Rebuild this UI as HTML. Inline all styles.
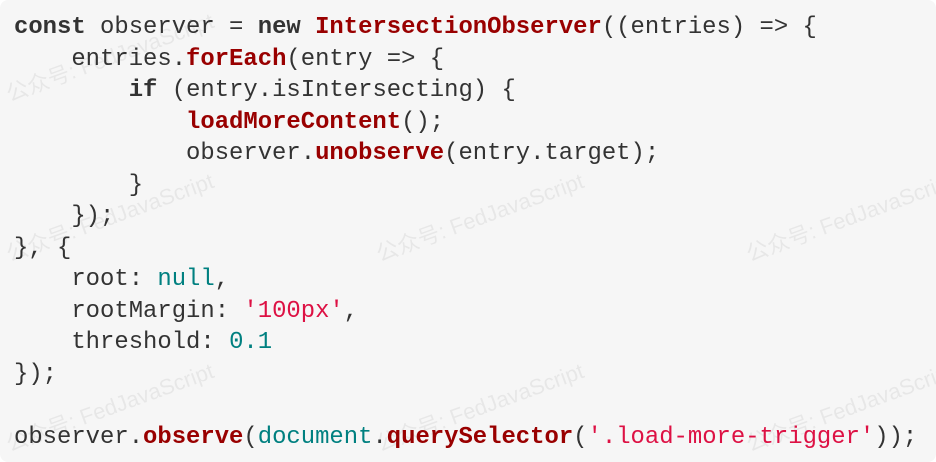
<!DOCTYPE html>
<html><head><meta charset="utf-8"><style>
html,body{margin:0;padding:0;background:#fff;}
.box{position:absolute;left:0;top:0;width:936px;height:462px;background:#f6f6f6;border-radius:8px;overflow:hidden;}
pre{position:absolute;left:14px;top:12px;margin:0;font-family:"Liberation Mono",monospace;font-size:23.9px;line-height:31.5px;color:#333;white-space:pre;}
.k{font-weight:bold;color:#333}
.f{font-weight:bold;color:#990000}
.t{color:#008080}
.s{color:#dd1144}
.w{position:absolute;font-family:"Liberation Sans","Noto Sans CJK SC",sans-serif;font-size:22px;color:rgba(0,0,0,0.06);transform:rotate(-20deg);white-space:nowrap}
</style></head><body>
<div class="box">
<div class="w" style="left:0;top:40px">公众号: FedJavaScript</div>
<div class="w" style="left:0;top:200px">公众号: FedJavaScript</div>
<div class="w" style="left:370px;top:200px">公众号: FedJavaScript</div>
<div class="w" style="left:740px;top:200px">公众号: FedJavaScript</div>
<div class="w" style="left:0;top:390px">公众号: FedJavaScript</div>
<div class="w" style="left:370px;top:390px">公众号: FedJavaScript</div>
<div class="w" style="left:740px;top:390px">公众号: FedJavaScript</div>
<pre><span class="k">const</span> observer = <span class="k">new</span> <span class="f">IntersectionObserver</span>((entries) => {
    entries.<span class="f">forEach</span>(entry => {
        <span class="k">if</span> (entry.isIntersecting) {
            <span class="f">loadMoreContent</span>();
            observer.<span class="f">unobserve</span>(entry.target);
        }
    });
}, {
    root: <span class="t">null</span>,
    rootMargin: <span class="s">'100px'</span>,
    threshold: <span class="t">0.1</span>
});

observer.<span class="f">observe</span>(<span class="t">document</span>.<span class="f">querySelector</span>(<span class="s">'.load-more-trigger'</span>));</pre>
</div>
</body></html>
